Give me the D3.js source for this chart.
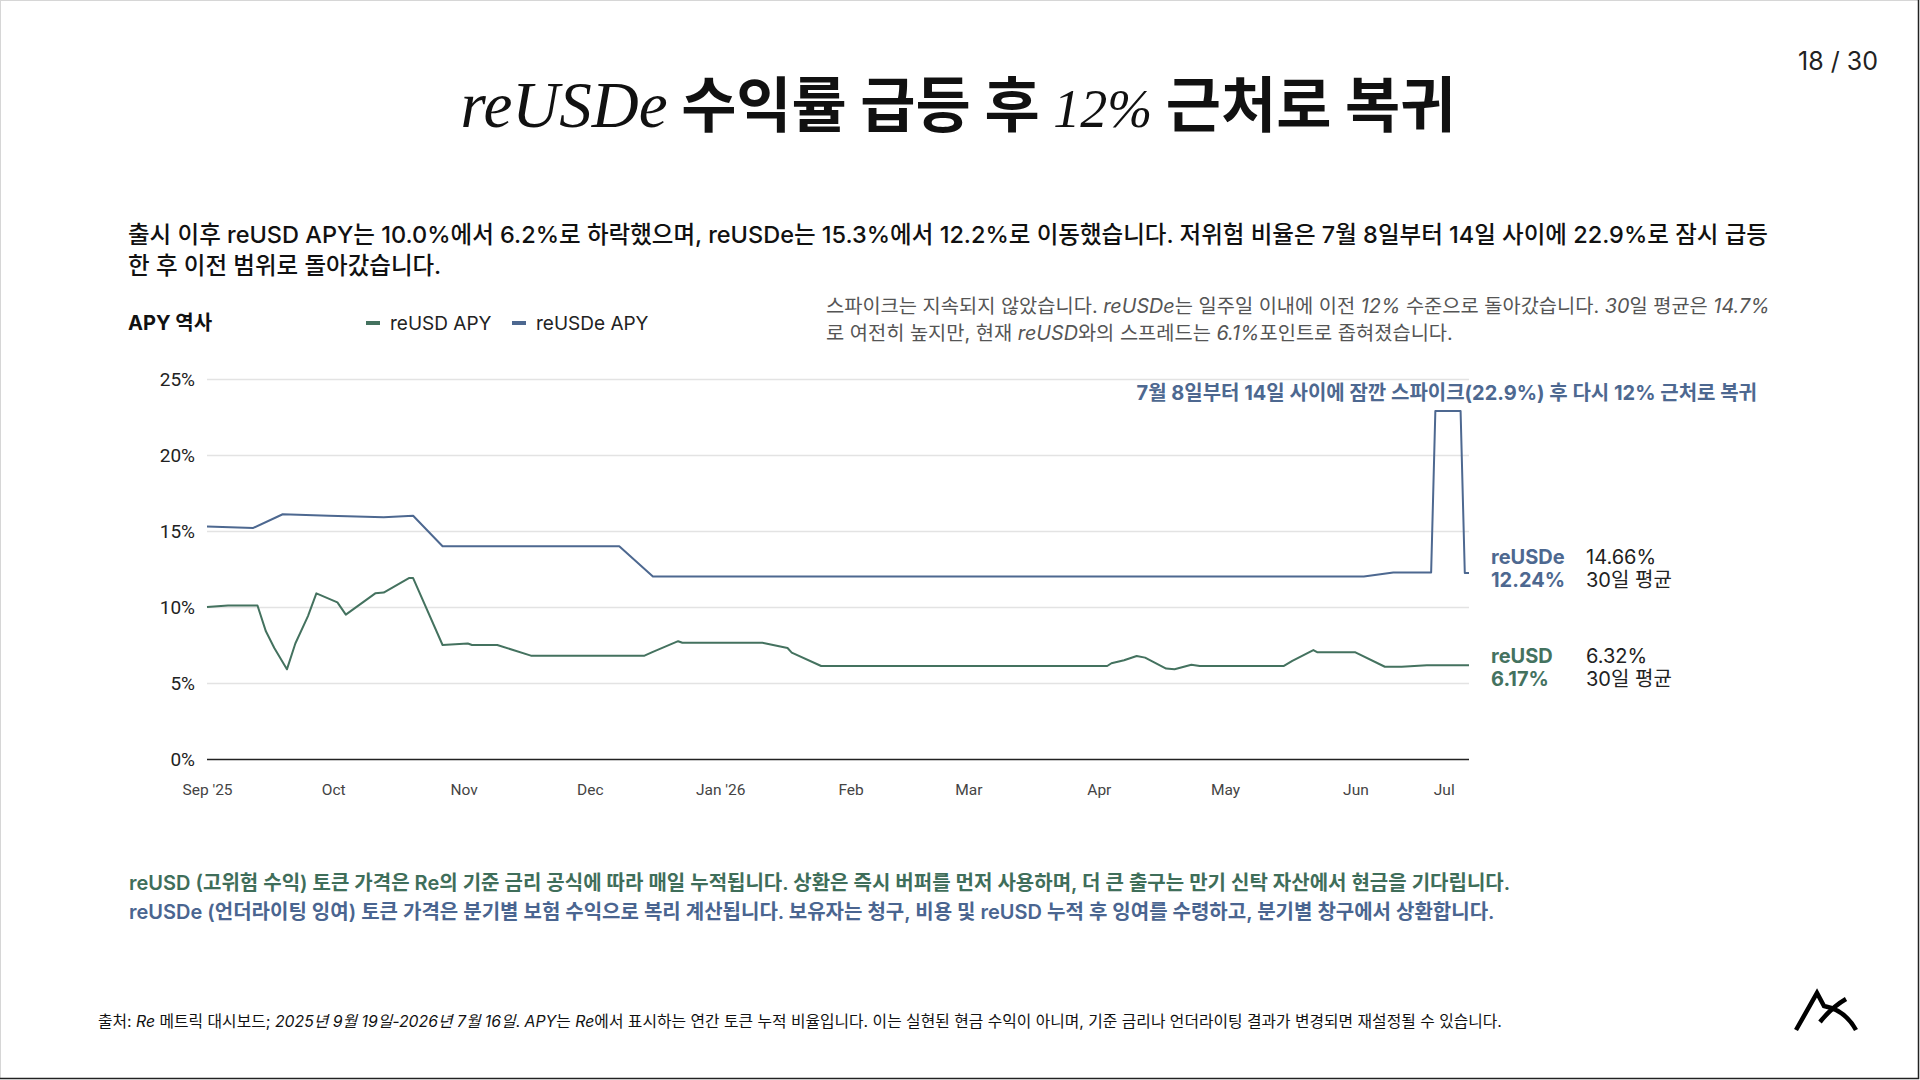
<!DOCTYPE html>
<html>
<head>
<meta charset="utf-8">
<script src="https://cdn.jsdelivr.net/npm/d3@7"></script>
<style>
  body { margin: 0; background: #fff; }
  svg { display: block; font-family: Inter, "Noto Sans CJK KR", sans-serif; }
</style>
</head>
<body>
<script>
// reUSDe APY (%)
const reUSDeDates = ["2025-09-19","2025-09-30","2025-10-07","2025-10-18","2025-10-31","2025-11-07",
  "2025-11-14","2025-12-26","2026-01-03","2026-06-21","2026-06-28","2026-07-07","2026-07-08",
  "2026-07-14","2026-07-15","2026-07-16"];
const reUSDeValues = [15.3,15.2,16.1,16.0,15.9,16.0,14.0,14.0,12.0,12.0,12.27,12.27,22.9,22.9,12.24,12.24];

// reUSD APY (%)
const reUSDDates = ["2025-09-19","2025-09-24","2025-10-01","2025-10-03","2025-10-05","2025-10-08",
  "2025-10-10","2025-10-13","2025-10-15","2025-10-20","2025-10-22","2025-10-29","2025-10-31",
  "2025-11-06","2025-11-07","2025-11-14","2025-11-20","2025-11-21","2025-11-27","2025-12-05",
  "2026-01-01","2026-01-03","2026-01-09","2026-01-10","2026-01-29","2026-02-04","2026-02-05",
  "2026-02-12","2026-04-21","2026-04-22","2026-04-25","2026-04-28","2026-04-30","2026-05-05",
  "2026-05-07","2026-05-11","2026-05-13","2026-06-02","2026-06-04","2026-06-09","2026-06-10",
  "2026-06-19","2026-06-26","2026-06-30","2026-07-06","2026-07-16"];
const reUSDValues = [10.0,10.1,10.1,8.4,7.3,5.9,7.6,9.4,10.9,10.3,9.5,10.9,10.95,11.9,11.9,7.5,
  7.6,7.5,7.5,6.8,6.8,7.05,7.75,7.65,7.65,7.3,7.0,6.12,6.12,6.3,6.5,6.78,6.67,5.95,5.9,6.2,6.12,
  6.12,6.45,7.17,7.02,7.02,6.07,6.07,6.16,6.17];

const yTicks = [0, 5, 10, 15, 20, 25];
const xTickDates = ["2025-09-19","2025-10-19","2025-11-19","2025-12-19","2026-01-19","2026-02-19",
  "2026-03-19","2026-04-19","2026-05-19","2026-06-19","2026-07-10"];
const xTickLabels = ["Sep '25","Oct","Nov","Dec","Jan '26","Feb","Mar","Apr","May","Jun","Jul"];

const seriesNames = ["reUSD APY", "reUSDe APY"];
const endNames = ["reUSDe", "reUSD"];
const endCurrent = ["12.24%", "6.17%"];
const endAvg = ["14.66%", "6.32%"];

const BLUE = "#4d6890", GREEN = "#44725f";

const W = 1920, H = 1080;
const margin = {left: 207, right: 451, top: 379, bottom: 321};

const parse = d3.timeParse("%Y-%m-%d");
const blueData = reUSDeDates.map((d, i) => ({date: parse(d), value: reUSDeValues[i]}));
const greenData = reUSDDates.map((d, i) => ({date: parse(d), value: reUSDValues[i]}));

const svg = d3.select("body").append("svg")
  .attr("width", W).attr("height", H);

// slide frame
svg.append("rect").attr("x", 0.5).attr("y", 0.5).attr("width", W - 2).attr("height", H - 2)
  .attr("fill", "#fff").attr("stroke", "#d6d6d6");
svg.append("path").attr("d", `M${W - 1.5},0 V${H - 1.5} H0`)
  .attr("fill", "none").attr("stroke", "#222").attr("stroke-width", 1.5);

// helper for text with italic runs
function richText(parent, x, y, segs, attrs) {
  const t = parent.append("text").attr("x", x).attr("y", y);
  Object.entries(attrs || {}).forEach(([k, v]) => t.attr(k, v));
  segs.forEach(s => {
    const ts = t.append("tspan").text(s[0]);
    if (s[1]) ts.attr("font-style", "italic");
  });
  return t;
}

// title
const title = svg.append("text").attr("x", 958).attr("y", 127)
  .attr("text-anchor", "middle").attr("font-size", 60).attr("font-weight", 700).attr("fill", "#111");
const serif = (s, size) => title.append("tspan").text(s)
  .attr("font-family", "'Liberation Serif', 'DejaVu Serif', serif")
  .attr("font-style", "italic").attr("font-weight", 400).attr("font-size", size);
serif("reUSDe", 65);
title.append("tspan").text(" 수익률 급등 후 ").attr("font-family", "'Noto Sans CJK KR'");
serif("12%", 54);
title.append("tspan").text(" 근처로 복귀").attr("font-family", "'Noto Sans CJK KR'");

svg.append("text").attr("x", 1878).attr("y", 70).attr("text-anchor", "end")
  .attr("font-size", 25).attr("fill", "#222").text("18 / 30");

// subtitle
const sub = svg.append("g").attr("font-size", 23.5).attr("font-weight", 500).attr("fill", "#111");
sub.append("text").attr("x", 128).attr("y", 243)
  .text("출시 이후 reUSD APY는 10.0%에서 6.2%로 하락했으며, reUSDe는 15.3%에서 12.2%로 이동했습니다. 저위험 비율은 7월 8일부터 14일 사이에 22.9%로 잠시 급등");
sub.append("text").attr("x", 128).attr("y", 274).text("한 후 이전 범위로 돌아갔습니다.");

// chart heading + legend
svg.append("text").attr("x", 128).attr("y", 330).attr("font-size", 20).attr("font-weight", 700)
  .attr("fill", "#111").text("APY 역사");

const legend = svg.append("g").attr("font-size", 19).attr("fill", "#222");
const legendX = [366, 512];
[GREEN, BLUE].forEach((c, i) => {
  legend.append("rect").attr("x", legendX[i]).attr("y", 321).attr("width", 14).attr("height", 4).attr("fill", c);
  legend.append("text").attr("x", legendX[i] + 24).attr("y", 330).text(seriesNames[i]);
});

// note on the right
const note = svg.append("g").attr("font-size", 19.8).attr("fill", "#555");
richText(note, 826, 313, [["스파이크는 지속되지 않았습니다. "], ["reUSDe", 1], ["는 일주일 이내에 이전 "], ["12%", 1],
  [" 수준으로 돌아갔습니다. "], ["30", 1], ["일 평균은 "], ["14.7%", 1]]);
richText(note, 826, 340, [["로 여전히 높지만, 현재 "], ["reUSD", 1], ["와의 스프레드는 "], ["6.1%", 1], ["포인트로 좁혀졌습니다."]]);

// scales
const x = d3.scaleTime()
  .domain([parse("2025-09-19"), parse("2026-07-16")])
  .range([margin.left, W - margin.right]);
const y = d3.scaleLinear().domain([0, 25]).range([H - margin.bottom, margin.top]);

// y axis + grid
const yAxis = svg.append("g").attr("transform", `translate(${margin.left},0)`)
  .call(d3.axisLeft(y).tickValues(yTicks).tickFormat(d => d + "%")
    .tickSize(-(W - margin.right - margin.left)).tickPadding(12));
yAxis.select(".domain").remove();
yAxis.selectAll(".tick line").attr("stroke", "#e3e3e3").attr("stroke-width", 1.6);
yAxis.selectAll(".tick").filter(d => d === 0).select("line").attr("stroke", "#222").attr("stroke-width", 1.6);
yAxis.selectAll(".tick text").attr("font-size", 19).attr("fill", "#222")
  .attr("font-family", "Roboto, 'Noto Sans', sans-serif");

// x axis
const xAxis = svg.append("g").attr("transform", `translate(0,${y(0)})`)
  .call(d3.axisBottom(x).tickValues(xTickDates.map(parse))
    .tickFormat((d, i) => xTickLabels[i]).tickSize(0).tickPadding(25));
xAxis.select(".domain").remove();
xAxis.selectAll(".tick text").attr("font-size", 15.5).attr("fill", "#444")
  .attr("font-family", "Roboto, 'Noto Sans', sans-serif");

// lines
const line = d3.line().x(d => x(d.date)).y(d => y(d.value));
svg.append("path").datum(blueData).attr("d", line)
  .attr("fill", "none").attr("stroke", BLUE).attr("stroke-width", 2).attr("stroke-linejoin", "round");
svg.append("path").datum(greenData).attr("d", line)
  .attr("fill", "none").attr("stroke", GREEN).attr("stroke-width", 2).attr("stroke-linejoin", "round");

// spike annotation
svg.append("text").attr("x", 1757).attr("y", 400).attr("text-anchor", "end")
  .attr("font-size", 20).attr("font-weight", 700).attr("fill", BLUE)
  .text("7월 8일부터 14일 사이에 잠깐 스파이크(22.9%) 후 다시 12% 근처로 복귀");

// end labels
const lastVals = [blueData[blueData.length - 1].value, greenData[greenData.length - 1].value];
const endNudge = [-3, 4];
const endG = svg.append("g").attr("font-size", 20);
[BLUE, GREEN].forEach((c, i) => {
  const yy = y(lastVals[i]) + endNudge[i];
  const lx = W - margin.right + 22;
  endG.append("text").attr("x", lx).attr("y", yy - 6).attr("font-weight", 700).attr("fill", c).text(endNames[i]);
  endG.append("text").attr("x", lx).attr("y", yy + 17).attr("font-weight", 700).attr("fill", c).text(endCurrent[i]);
  endG.append("text").attr("x", lx + 95).attr("y", yy - 6).attr("fill", "#222").text(endAvg[i]);
  endG.append("text").attr("x", lx + 95).attr("y", yy + 17).attr("fill", "#222").text("30일 평균");
});

// explanatory paragraph
const para = svg.append("g").attr("font-size", 20).attr("font-weight", 600);
para.append("text").attr("x", 129).attr("y", 890).attr("fill", "#3f6e5a")
  .text("reUSD (고위험 수익) 토큰 가격은 Re의 기준 금리 공식에 따라 매일 누적됩니다. 상환은 즉시 버퍼를 먼저 사용하며, 더 큰 출구는 만기 신탁 자산에서 현금을 기다립니다.");
para.append("text").attr("x", 129).attr("y", 919).attr("fill", "#4a6590")
  .text("reUSDe (언더라이팅 잉여) 토큰 가격은 분기별 보험 수익으로 복리 계산됩니다. 보유자는 청구, 비용 및 reUSD 누적 후 잉여를 수령하고, 분기별 창구에서 상환합니다.");

// source footnote
const foot = svg.append("g").attr("font-size", 15.8).attr("fill", "#111");
richText(foot, 98, 1027, [["출처: "], ["Re", 1], [" 메트릭 대시보드; "], ["2025년 9월 19일-2026년 7월 16일", 1], [". "],
  ["APY", 1], ["는 "], ["Re", 1], ["에서 표시하는 연간 토큰 누적 비율입니다. 이는 실현된 현금 수익이 아니며, 기준 금리나 언더라이팅 결과가 변경되면 재설정될 수 있습니다."]]);

// logo mark
const logo = svg.append("g").attr("fill", "none").attr("stroke", "#000").attr("stroke-width", 4.5)
  .attr("stroke-linecap", "butt").attr("stroke-linejoin", "miter");
logo.append("path").attr("d", "M1796,1030 L1817,993 L1824,1006 Q1845,1010 1856,1030");
logo.append("path").attr("d", "M1820,1022 Q1832,1007 1846,999");
</script>
</body>
</html>
